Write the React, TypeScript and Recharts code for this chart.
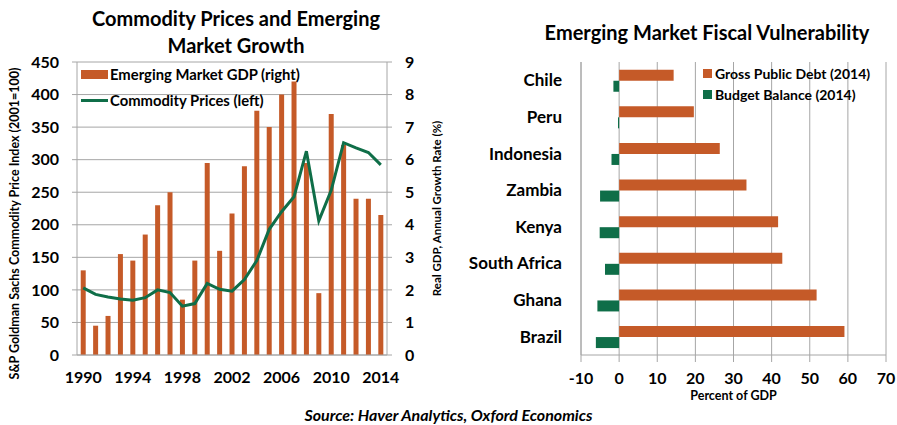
import {
  ComposedChart,
  BarChart,
  Bar,
  Line,
  XAxis,
  YAxis,
  CartesianGrid,
} from "recharts";

const years = [
  "1990", "1991", "1992", "1993", "1994", "1995", "1996", "1997", "1998", "1999",
  "2000", "2001", "2002", "2003", "2004", "2005", "2006", "2007", "2008", "2009",
  "2010", "2011", "2012", "2013", "2014",
];
const gdpGrowth = [
  2.6, 0.9, 1.2, 3.1, 2.9, 3.7, 4.6, 5.0, 1.7, 2.9,
  5.9, 3.2, 4.35, 5.8, 7.5, 7.0, 8.0, 8.4, 5.9, 1.9,
  7.4, 6.45, 4.8, 4.8, 4.3,
];
const commodityPrices = [
  103, 93, 89, 86, 84, 88, 100, 96, 75, 79,
  110, 101, 98, 116, 145, 193, 220, 243, 313, 206,
  253, 326, 318, 311, 292,
];
const leftTicks = [0, 50, 100, 150, 200, 250, 300, 350, 400, 450];
const rightTicks = [0, 1, 2, 3, 4, 5, 6, 7, 8, 9];

const countries = ["Chile", "Peru", "Indonesia", "Zambia", "Kenya", "South Africa", "Ghana", "Brazil"];
const grossDebt = [14.3, 19.6, 26.4, 33.4, 41.7, 42.8, 51.8, 59.1];
const budgetBalance = [-1.5, -0.3, -2.0, -5.0, -5.1, -3.7, -5.7, -6.1];
const percentTicks = [-10, 0, 10, 20, 30, 40, 50, 60, 70];

const ORANGE = "#C55A28";
const GREEN = "#0F6E48";
const GRID = "#A6A6A6";
const FONT = "Lato, 'Open Sans', sans-serif";

const growthData = years.map((year, i) => ({
  year,
  gdp: gdpGrowth[i],
  commodity: commodityPrices[i],
}));

const fiscalData = countries.map((country, i) => ({
  country,
  debt: grossDebt[i],
  balance: budgetBalance[i],
}));

const tickStyle = { fontSize: 16, fontWeight: 700, fill: "#000", fontFamily: FONT };
const catTickStyle = { ...tickStyle, fontSize: 17 };

const legendText = { fontFamily: FONT, fontWeight: 700, color: "#000" };

export default function App() {
  return (
    <div
      style={{
        position: "absolute",
        left: 0,
        top: 0,
        width: 897,
        height: 425,
        background: "#fff",
        fontFamily: FONT,
      }}
    >
      {/* left title */}
      <div
        style={{
          position: "absolute",
          left: 36,
          width: 400,
          top: 5,
          textAlign: "center",
          fontSize: 20,
          fontWeight: 700,
          lineHeight: "27px",
        }}
      >
        Commodity Prices and Emerging
        <br />
        Market Growth
      </div>

      {/* right title */}
      <div
        style={{
          position: "absolute",
          left: 507,
          width: 400,
          top: 20,
          textAlign: "center",
          fontSize: 20,
          fontWeight: 700,
        }}
      >
        Emerging Market Fiscal Vulnerability
      </div>

      <div style={{ position: "absolute", left: 0, top: 0 }}>
        <ComposedChart
          width={450}
          height={400}
          data={growthData}
          margin={{ top: 62, right: 0, bottom: 15, left: 0 }}
          barCategoryGap="30%"
        >
          <CartesianGrid vertical={false} stroke={GRID} yAxisId="left" />
          <XAxis
            dataKey="year"
            interval={3}
            tickLine={false}
            tickSize={6}
            tickMargin={11}
            height={30}
            axisLine={{ stroke: GRID }}
            tick={tickStyle}
          />
          <YAxis
            yAxisId="left"
            domain={[0, 450]}
            ticks={leftTicks}
            width={77}
            tickSize={5}
            tickMargin={13}
            axisLine={{ stroke: GRID }}
            tickLine={{ stroke: GRID }}
            tick={tickStyle}
            label={({ viewBox }: any) => (
              <text
                transform={`translate(${viewBox.x + 14}, ${viewBox.y + viewBox.height / 2 + 15}) rotate(-90)`}
                textAnchor="middle"
                dominantBaseline="central"
                fontSize={12.5}
                fontWeight={700}
                fontFamily={FONT}
                fill="#000"
              >
                S&amp;P Goldman Sachs Commodity Price Index (2001=100)
              </text>
            )}
          />
          <YAxis
            yAxisId="right"
            orientation="right"
            domain={[0, 9]}
            ticks={rightTicks}
            width={63}
            tickSize={5}
            tickMargin={13}
            axisLine={{ stroke: GRID }}
            tickLine={{ stroke: GRID }}
            tick={{ ...tickStyle, textAnchor: "start" }}
            label={({ viewBox }: any) => (
              <text
                transform={`translate(${viewBox.x + 49}, ${viewBox.y + viewBox.height / 2}) rotate(-90)`}
                textAnchor="middle"
                dominantBaseline="central"
                fontSize={11.5}
                fontWeight={700}
                fontFamily={FONT}
                fill="#000"
              >
                Real GDP, Annual Growth Rate (%)
              </text>
            )}
          />
          <Bar
            yAxisId="right"
            dataKey="gdp"
            name="Emerging Market GDP (right)"
            fill={ORANGE}
            isAnimationActive={false}
          />
          <Line
            yAxisId="left"
            dataKey="commodity"
            name="Commodity Prices (left)"
            type="linear"
            stroke={GREEN}
            strokeWidth={3}
            dot={false}
            isAnimationActive={false}
          />
        </ComposedChart>
      </div>

      {/* left legend */}
      <div style={{ position: "absolute", left: 81, top: 61, fontSize: 14.8, ...legendText }}>
        <div style={{ display: "flex", alignItems: "center", height: 26 }}>
          <div style={{ width: 27, height: 9, background: ORANGE, marginRight: 2 }} />
          <span>Emerging Market GDP (right)</span>
        </div>
        <div style={{ display: "flex", alignItems: "center", height: 26 }}>
          <div style={{ width: 27, height: 3, background: GREEN, marginRight: 2 }} />
          <span>Commodity Prices (left)</span>
        </div>
      </div>

      <div style={{ position: "absolute", left: 450, top: 0 }}>
        <BarChart
          width={447}
          height={420}
          data={fiscalData}
          layout="vertical"
          margin={{ top: 62, right: 11, bottom: 20, left: 0 }}
          barCategoryGap="21%"
          barGap={0}
        >
          <CartesianGrid horizontal={false} stroke={GRID} />
          <XAxis
            type="number"
            domain={[-10, 70]}
            ticks={percentTicks}
            height={45}
            tickSize={7}
            tickMargin={11}
            axisLine={{ stroke: GRID }}
            tickLine={{ stroke: GRID }}
            tick={tickStyle}
            label={({ viewBox }: any) => (
              <text
                x={viewBox.x + viewBox.width / 2}
                y={viewBox.y + 45}
                textAnchor="middle"
                fontSize={12.5}
                fontWeight={700}
                fontFamily={FONT}
                fill="#000"
              >
                Percent of GDP
              </text>
            )}
          />
          <YAxis
            type="category"
            dataKey="country"
            width={131}
            tickLine={false}
            tickSize={0}
            tickMargin={19}
            axisLine={{ stroke: GRID }}
            tick={catTickStyle}
          />
          <Bar dataKey="debt" name="Gross Public Debt (2014)" fill={ORANGE} isAnimationActive={false} />
          <Bar dataKey="balance" name="Budget Balance (2014)" fill={GREEN} isAnimationActive={false} />
        </BarChart>
      </div>

      {/* right legend */}
      <div style={{ position: "absolute", left: 703, top: 63, fontSize: 14, ...legendText }}>
        <div style={{ display: "flex", alignItems: "center", height: 21 }}>
          <div style={{ width: 9, height: 9, background: ORANGE, marginRight: 3 }} />
          <span>Gross Public Debt (2014)</span>
        </div>
        <div style={{ display: "flex", alignItems: "center", height: 21 }}>
          <div style={{ width: 9, height: 9, background: GREEN, marginRight: 3 }} />
          <span>Budget Balance (2014)</span>
        </div>
      </div>

      {/* source */}
      <div
        style={{
          position: "absolute",
          left: 0,
          width: 897,
          top: 407,
          textAlign: "center",
          fontSize: 16,
          lineHeight: "16px",
          fontWeight: 700,
          fontStyle: "italic",
        }}
      >
        Source: Haver Analytics, Oxford Economics
      </div>
    </div>
  );
}
